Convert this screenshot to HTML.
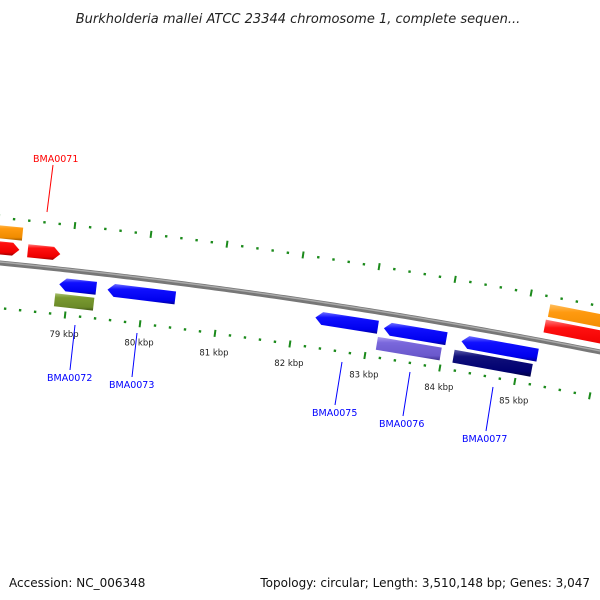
<!DOCTYPE html>
<html><head><meta charset="utf-8"><style>
html,body{margin:0;padding:0;background:#fff;}
svg{display:block;font-family:"DejaVu Sans","Liberation Sans",sans-serif;}
</style></head><body>
<svg id="map" width="600" height="600" viewBox="0 0 600 600">
<defs>
<linearGradient id="gb" x1="0" y1="0" x2="0" y2="1"><stop offset="0" stop-color="#7070ff"/><stop offset="0.25" stop-color="#1010ff"/><stop offset="0.8" stop-color="#0000ee"/><stop offset="1" stop-color="#00009a"/></linearGradient>
<linearGradient id="gr" x1="0" y1="0" x2="0" y2="1"><stop offset="0" stop-color="#ff8080"/><stop offset="0.25" stop-color="#ff1010"/><stop offset="0.8" stop-color="#ee0000"/><stop offset="1" stop-color="#990000"/></linearGradient>
<linearGradient id="go" x1="0" y1="0" x2="0" y2="1"><stop offset="0" stop-color="#ffc060"/><stop offset="0.25" stop-color="#ff9a10"/><stop offset="0.8" stop-color="#f08c00"/><stop offset="1" stop-color="#a05a00"/></linearGradient>
<linearGradient id="gg" x1="0" y1="0" x2="0" y2="1"><stop offset="0" stop-color="#a8c070"/><stop offset="0.25" stop-color="#7a9a30"/><stop offset="0.8" stop-color="#6b8a28"/><stop offset="1" stop-color="#3f5515"/></linearGradient>
<linearGradient id="gp" x1="0" y1="0" x2="0" y2="1"><stop offset="0" stop-color="#a898f0"/><stop offset="0.25" stop-color="#7a68dc"/><stop offset="0.8" stop-color="#6a58cc"/><stop offset="1" stop-color="#3e3090"/></linearGradient>
<linearGradient id="gn" x1="0" y1="0" x2="0" y2="1"><stop offset="0" stop-color="#5a5aa8"/><stop offset="0.25" stop-color="#10107a"/><stop offset="0.8" stop-color="#000070"/><stop offset="1" stop-color="#000040"/></linearGradient>
</defs>
<text x="298" y="23" text-anchor="middle" font-size="13" font-style="italic" fill="#222">Burkholderia mallei ATCC 23344 chromosome 1, complete sequen...</text>
<g id="ticks"></g>
<g id="backbone"></g>
<g id="feats"></g>
<g id="labels"></g>
<text x="9" y="587" font-size="12" fill="#111">Accession: NC_006348</text>
<text x="590" y="587" text-anchor="end" font-size="12" fill="#111">Topology: circular; Length: 3,510,148 bp; Genes: 3,047</text>
</svg>
<script>
const featStart=[77.7,78.42,77.9,78.88,78.84,79.52,82.28,83.19,83.13,84.22,84.15,85.27,85.25];
const featEnd=[78.31,78.85,78.33,79.37,79.36,80.42,83.11,84.02,83.98,85.23,85.19,86.6,86.6];
const featLane=[1,1,2,-1,-2,-1,-1,-1,-2,-1,-2,2,1];
const featFill=['gr','gr','go','gb','gg','gb','gb','gb','gp','gb','gn','go','gr'];
const featArrow=[1,1,0,1,0,1,1,1,0,1,0,0,0];
const kbpLabels=[79,80,81,82,83,84,85];
const geneNames=['BMA0071','BMA0072','BMA0073','BMA0075','BMA0076','BMA0077'];
const geneColors=['#ff0000','#0000ff','#0000ff','#0000ff','#0000ff','#0000ff'];
const NS='http://www.w3.org/2000/svg';
function f(x){return 263+0.0983*x+8.33e-5*x*x;}
function fp(x){return 0.0983+1.666e-4*x;}
function pt(p,r){const x0=70+75.5*(p-79);const s=fp(x0);const n=Math.sqrt(1+s*s);return [x0+r*s/n,f(x0)-r/n];}
function mk(tag,attrs,parent){const e=document.createElementNS(NS,tag);for(const k in attrs)e.setAttribute(k,attrs[k]);parent.appendChild(e);return e;}
const bb=document.getElementById('backbone');
let d='';for(let x=-10;x<=610;x+=5){d+=(x===-10?'M':'L')+x+','+f(x).toFixed(2);}
const b1=mk('path',{d:d,stroke:'#777','stroke-width':5,fill:'none'},bb);


mk('path',{d:d,stroke:'#ababab','stroke-width':1.4,fill:'none',transform:'translate(0,-1)'},bb);
const tg=document.getElementById('ticks');
for(let i=0;i<=55;i++){const p=77+i*0.2;const major=Math.abs(p-Math.round(p))<0.01;
 [45,-45].forEach(r=>{const h=major?3.5:1.2;const a=pt(p,r-h),b=pt(p,r+h);
 const l=mk('line',{x1:a[0],y1:a[1],x2:b[0],y2:b[1],stroke:'#1b8a1b','stroke-width':major?2:2.4},tg);
 
 });}
const lg=document.getElementById('labels');
kbpLabels.forEach(k=>{const q=pt(k,-45);const t=mk('text',{x:q[0]-1,y:q[1]+22,'text-anchor':'middle','font-size':8.5,fill:'#222'},lg);t.textContent=k+' kbp';
 
 });
const fg=document.getElementById('feats');
const H=6.5,HEAD=0.09;
for(let i=0;i<featStart.length;i++){const c=featLane[i]>0?(featLane[i]===1?15:31):(featLane[i]===-1?-15:-31);
 const s=featStart[i],e=featEnd[i];let pts=[];
 if(featArrow[i]&&featLane[i]>0){pts=[pt(s,c+H),pt(e-HEAD,c+H),pt(e,c),pt(e-HEAD,c-H),pt(s,c-H)];}
 else if(featArrow[i]&&featLane[i]<0){pts=[pt(s,c),pt(s+HEAD,c+H),pt(e,c+H),pt(e,c-H),pt(s+HEAD,c-H)];}
 else{pts=[pt(s,c+H),pt(e,c+H),pt(e,c-H),pt(s,c-H)];}
 const pg=mk('polygon',{points:pts.map(q=>q[0].toFixed(1)+','+q[1].toFixed(1)).join(' '),fill:'url(#'+featFill[i]+')'},fg);
 
 }
const gl=[[33,162,53,165,47,212],[47,381,75,325,70,370],[109,388,137,333,132,377],[312,416,342,362,335,405],[379,427,410,372,403,416],[462,442,493,387,486,431]];
geneNames.forEach((n,i)=>{const g=gl[i];
 const ln=mk('line',{x1:g[2],y1:g[3],x2:g[4],y2:g[5],stroke:geneColors[i],'stroke-width':1},lg);
 
 
 const t=mk('text',{x:g[0],y:g[1],'font-size':9.5,fill:geneColors[i]},lg);t.textContent=n;
 
 });
</script>
</body></html>
